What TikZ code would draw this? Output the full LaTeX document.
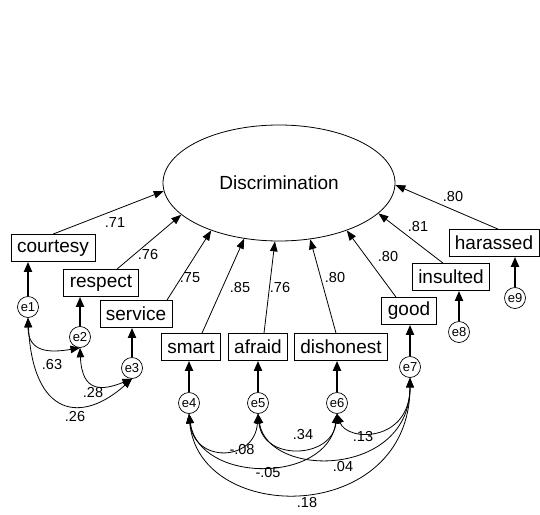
\documentclass[tikz,border=0pt]{standalone}
\usepackage{fontspec}
\setmainfont{Liberation Sans}
\usetikzlibrary{shapes.geometric,arrows.meta}

\begin{document}
\begin{tikzpicture}[x=1pt, y=1pt,
    obs/.style={draw, line width=0.8pt, minimum height=27pt, inner xsep=6pt, font=\fontsize{19}{22}\selectfont},
    err/.style={draw, circle, line width=0.7pt, minimum size=21pt, inner sep=0pt, font=\fontsize{13}{15}\selectfont},
    load/.style={line width=0.8pt, -{Triangle[length=10pt,width=7.5pt]}},
    res/.style={line width=2pt, -{Triangle[length=10pt,width=8pt]}},
    cov/.style={line width=0.8pt, {Triangle[length=9.5pt,width=7.5pt]}-{Triangle[length=9.5pt,width=7.5pt]}},
    coef/.style={font=\fontsize{14.5}{16}\selectfont, inner sep=0pt}]
    \useasboundingbox (0,0) rectangle (540,-514);

    \node[ellipse, draw, line width=0.8pt, minimum width=232pt, minimum height=116pt, inner sep=0pt,
          font=\fontsize{19}{22}\selectfont] (disc) at (279,-183) {Discrimination};

    \node[obs] (courtesy) at (53,-248) {courtesy};
    \node[obs] (respect) at (101,-283) {respect};
    \node[obs] (service) at (136,-314) {service};
    \node[obs] (smart) at (191,-347) {smart};
    \node[obs] (afraid) at (258,-347) {afraid};
    \node[obs] (dishonest) at (341,-347) {dishonest};
    \node[obs] (good) at (409,-311) {good};
    \node[obs] (insulted) at (451,-277) {insulted};
    \node[obs] (harassed) at (494,-243) {harassed};

    \node[err] (e1) at (28,-307) {e1};
    \node[err] (e2) at (80,-337) {e2};
    \node[err] (e3) at (132,-368) {e3};
    \node[err] (e4) at (189,-403) {e4};
    \node[err] (e5) at (258,-403) {e5};
    \node[err] (e6) at (337,-403) {e6};
    \node[err] (e7) at (410,-367) {e7};
    \node[err] (e8) at (459,-332) {e8};
    \node[err] (e9) at (515,-298) {e9};

    \draw[load] (courtesy.north) -- (disc.184);
    \draw[load] ([xshift=16pt]respect.north) -- (disc.198);
    \draw[load] ([xshift=31pt]service.north) -- (disc.215);
    \draw[load] ([xshift=11pt]smart.north) -- (disc.238);
    \draw[load] ([xshift=6pt]afraid.north) -- (disc.266);
    \draw[load] ([xshift=-5pt]dishonest.north) -- (disc.299);
    \draw[load] ([xshift=-13pt]good.north) -- (disc.325);
    \draw[load] ([xshift=-8pt]insulted.north) -- (disc.343);
    \draw[load] ([xshift=4pt]harassed.north) -- (disc.359);

    \node[coef] (l71) at (115,-223) {.71};
    \node[coef] (l76a) at (148,-255) {.76};
    \node[coef] (l75) at (190,-278) {.75};
    \node[coef] (l85) at (240,-288) {.85};
    \node[coef] (l76b) at (280,-288) {.76};
    \node[coef] (l80a) at (335,-278) {.80};
    \node[coef] (l80b) at (388,-257) {.80};
    \node[coef] (l81) at (418,-227) {.81};
    \node[coef] (l80c) at (453,-197) {.80};

    \draw[res] (e1) -- (e1 |- courtesy.south);
    \draw[res] (e2) -- (e2 |- respect.south);
    \draw[res] (e3) -- (e3 |- service.south);
    \draw[res] (e4) -- (e4 |- smart.south);
    \draw[res] (e5) -- (e5 |- afraid.south);
    \draw[res] (e6) -- (e6 |- dishonest.south);
    \draw[res] (e7) -- (e7 |- good.south);
    \draw[res] (e8) -- (e8 |- insulted.south);
    \draw[res] (e9) -- (e9 |- harassed.south);

    \draw[cov] (e1.south) .. controls +(0,-35) and +(-30,-5) .. (e2.south);
    \draw[cov] (e2.south) .. controls +(2,-45) and +(-30,-12) .. (e3.south);
    \draw[cov] (e1.south) .. controls +(5,-100) and +(-50,-45) .. (e3.south);
    \draw[cov] (e4.south) .. controls +(5,-50) and +(-3,-48) .. (e5.south);
    \draw[cov] (e5.south) .. controls +(5,-48) and +(-5,-45) .. (e6.south);
    \draw[cov] (e6.south) .. controls +(10,-28) and +(0,-65) .. (e7.south);
    \draw[cov] (e4.south) .. controls +(10,-70) and +(-10,-70) .. (e6.south);
    \draw[cov] (e5.south) .. controls +(10,-65) and +(0,-100) .. (e7.south);
    \draw[cov] (e4.south) .. controls +(10,-112) and +(0,-148) .. (e7.south);

    \node[coef] (c63) at (52,-365) {.63};
    \node[coef] (c28) at (93,-393) {.28};
    \node[coef] (c26) at (75,-417) {.26};
    \node[coef] (c08) at (242,-450) {-.08};
    \node[coef] (c34) at (303,-435) {.34};
    \node[coef] (c13) at (363,-437) {.13};
    \node[coef] (c05) at (268,-472) {-.05};
    \node[coef] (c04) at (343,-467) {.04};
    \node[coef] (c18) at (307,-502) {.18};
\end{tikzpicture}
\end{document}
